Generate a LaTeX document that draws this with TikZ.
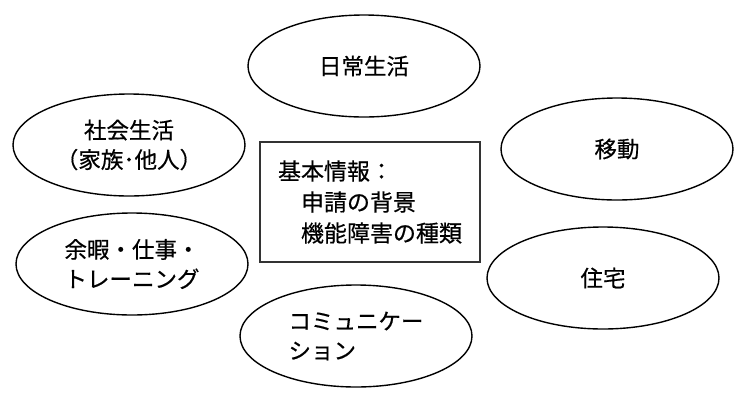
\documentclass[tikz,border=0pt]{standalone}
\usepackage{fontspec}
\setmainfont{Noto Sans CJK JP}[FakeBold=0.5]
\usetikzlibrary{shapes.geometric}

\tikzset{
  topic/.style={ellipse, draw, line width=1.4pt, minimum width=232pt,
    minimum height=102pt, inner sep=0pt, align=left,
    font=\fontsize{22.5}{29.5}\selectfont},
  infobox/.style={rectangle, draw=black!80, line width=1.2pt, minimum width=220pt,
    minimum height=120pt, inner sep=0pt, align=left,
    font=\fontsize{23}{31}\selectfont}
}

\begin{document}
\begin{tikzpicture}[x=1pt, y=-1pt]
        % Canvas
        \useasboundingbox (0,0) rectangle (740,400);

        % Centre: basic information
        \node[infobox] (info) at (370,202)
            {基本情報：\\　申請の背景\\　機能障害の種類};

        % Surrounding areas of life
        \node[topic] (daily) at (364,66) {日常生活};
        \node[topic, align=center] (social) at (129,145) {社会生活\\（家族･他人）};
        \node[topic] (move) at (617,149) {移動};
        \node[topic] (leisure) at (132,264) {余暇・仕事・\\トレーニング};
        \node[topic] (housing) at (603,278) {住宅};
        \node[topic] (comm) at (356,336) {コミュニケー\\ション};
    \end{tikzpicture}
\end{document}
